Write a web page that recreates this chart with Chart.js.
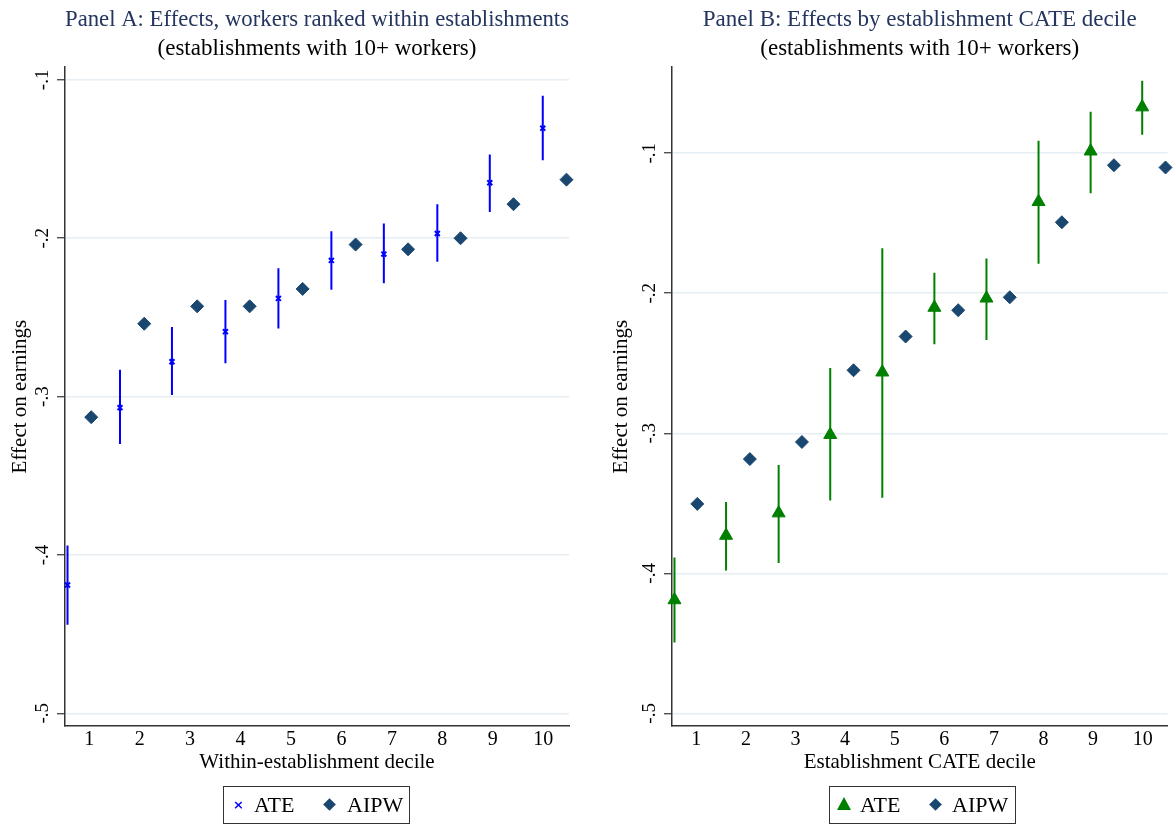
<!DOCTYPE html>
<html>
<head>
<meta charset="utf-8">
<script src="https://cdn.jsdelivr.net/npm/chart.js@4.4.0/dist/chart.umd.min.js"></script>
<style>
  body { margin: 0; background: #fff; }
  #wrap { position: relative; width: 1176px; height: 825px; overflow: hidden; }
  #wrap canvas { position: absolute; top: 0; }
  .legend { position: absolute; top: 786px; width: 187px; height: 38px; box-sizing: border-box;
            border: 1.5px solid #333; font: 22px "Liberation Serif", serif; color: #000; }
  .legend span.txt { position: absolute; top: 0; line-height: 35px; }
  .mk { position: absolute; }
  .mk-x { top: 10px; font: bold 13px "DejaVu Sans", sans-serif; color: #0000ff; line-height: 15px; }
  .mk-dia { top: 13px; width: 9px; height: 9px; background: #1a476f; transform: rotate(45deg); }
  .mk-tri { top: 10px; width: 0; height: 0; border-left: 7px solid transparent;
            border-right: 7px solid transparent; border-bottom: 13px solid #008000; }
</style>
</head>
<body>
<div id="wrap">
  <canvas id="panelA" width="588" height="825" style="left:0"></canvas>
  <canvas id="panelB" width="588" height="825" style="left:588px"></canvas>

  <div class="legend" style="left:223px">
    <span class="mk mk-x" style="left:9px">×</span>
    <span class="txt" style="left:30px">ATE</span>
    <span class="mk mk-dia" style="left:101px"></span>
    <span class="txt" style="left:123px">AIPW</span>
  </div>
  <div class="legend" style="left:829px">
    <span class="mk mk-tri" style="left:7px"></span>
    <span class="txt" style="left:30px">ATE</span>
    <span class="mk mk-dia" style="left:101px"></span>
    <span class="txt" style="left:122px">AIPW</span>
  </div>
</div>

<script>
// Ticks communs aux deux panneaux
const xTicks = [1, 2, 3, 4, 5, 6, 7, 8, 9, 10];
const yTicks = [-0.5, -0.4, -0.3, -0.2, -0.1];
const yTickLabels = ['-.5', '-.4', '-.3', '-.2', '-.1'];

// Panel A : déciles intra-établissement
const ateXA  = [0.57, 1.61, 2.64, 3.70, 4.75, 5.80, 6.84, 7.90, 8.94, 9.99];
const ateA   = [-0.419, -0.307, -0.278, -0.259, -0.238, -0.214, -0.210, -0.197, -0.165, -0.1305];
const ateLoA = [-0.444, -0.330, -0.299, -0.279, -0.257, -0.2325, -0.2285, -0.2148, -0.1834, -0.1507];
const ateHiA = [-0.394, -0.283, -0.256, -0.239, -0.219, -0.1956, -0.1907, -0.1785, -0.1472, -0.1101];
const aipwXA = [1.04, 2.09, 3.14, 4.18, 5.23, 6.28, 7.32, 8.36, 9.41, 10.46];
const aipwA  = [-0.313, -0.254, -0.243, -0.243, -0.232, -0.204, -0.207, -0.200, -0.1785, -0.163];

// Panel B : déciles de CATE des établissements
const ateXB  = [0.56, 1.60, 2.66, 3.70, 4.75, 5.80, 6.85, 7.90, 8.95, 9.99];
const ateB   = [-0.419, -0.373, -0.357, -0.301, -0.2564, -0.2102, -0.2036, -0.1347, -0.0986, -0.0671];
const ateLoB = [-0.4493, -0.398, -0.3926, -0.348, -0.346, -0.2364, -0.2333, -0.179, -0.1286, -0.0869];
const ateHiB = [-0.3886, -0.349, -0.3226, -0.2533, -0.1679, -0.1854, -0.1752, -0.0911, -0.0704, -0.0483];
const aipwXB = [1.02, 2.08, 3.13, 4.17, 5.22, 6.28, 7.32, 8.37, 9.42, 10.46];
const aipwB  = [-0.3504, -0.3184, -0.3062, -0.255, -0.2309, -0.2121, -0.2029, -0.1493, -0.1086, -0.1102];

const SERIF = '"Liberation Serif", "Times New Roman", serif';
const NAVY = '#1a476f';

// Étiquettes de l'axe Y tournées de 90° comme dans Stata
const rotatedYTicks = {
    id: 'rotatedYTicks',
    afterDraw(chart, args, opts) {
        const scale = chart.scales.y;
        const ctx = chart.ctx;
        ctx.save();
        ctx.font = opts.size + 'px ' + SERIF;
        ctx.fillStyle = '#000';
        ctx.textAlign = 'center';
        ctx.textBaseline = 'middle';
        yTicks.forEach(function(v, i) {
            ctx.save();
            ctx.translate(scale.right - opts.offset, scale.getPixelForValue(v));
            ctx.rotate(-Math.PI / 2);
            ctx.fillText(yTickLabels[i], 0, 0);
            ctx.restore();
        });
        ctx.restore();
    }
};

function toPoints(xs, ys) {
    return xs.map((x, i) => ({ x: x, y: ys[i] }));
}

// Segments verticaux séparés par des trous (y null)
function errorBarPoints(xs, lo, hi) {
    const pts = [];
    xs.forEach((x, i) => {
        pts.push({ x: x, y: lo[i] }, { x: x, y: hi[i] }, { x: x, y: null });
    });
    return pts;
}

function makePanel(id, p) {
    return new Chart(document.getElementById(id), {
        type: 'scatter',
        data: {
            datasets: [
                {
                    label: 'ATE',
                    data: toPoints(p.ateX, p.ate),
                    pointStyle: p.ateStyle,
                    pointRadius: p.ateRadius,
                    pointBorderWidth: p.ateBorder,
                    backgroundColor: p.ateColor,
                    borderColor: p.ateColor,
                    clip: false
                },
                {
                    label: 'AIPW',
                    data: toPoints(p.aipwX, p.aipw),
                    pointStyle: 'rectRot',
                    pointRadius: 6.5,
                    pointBorderWidth: 1,
                    backgroundColor: NAVY,
                    borderColor: NAVY,
                    clip: false
                },
                {
                    label: 'CI',
                    data: errorBarPoints(p.ateX, p.lo, p.hi),
                    showLine: true,
                    spanGaps: false,
                    pointRadius: 0,
                    borderWidth: 2,
                    borderColor: p.ateColor,
                    clip: false
                }
            ]
        },
        options: {
            responsive: false,
            animation: false,
            layout: { padding: { left: 0, right: p.padRight, top: 0, bottom: 49 } },
            plugins: {
                legend: { display: false },
                tooltip: { enabled: false },
                title: {
                    display: true,
                    text: p.title,
                    color: '#24365f',
                    fullSize: false,
                    font: { family: SERIF, size: 23, weight: 'normal' },
                    padding: { top: 6, bottom: 0 }
                },
                subtitle: {
                    display: true,
                    text: '(establishments with 10+ workers)',
                    color: '#000',
                    fullSize: false,
                    font: { family: SERIF, size: 23 },
                    padding: { top: 2, bottom: 4 }
                },
                rotatedYTicks: { offset: 22, size: 19 }
            },
            scales: {
                x: {
                    type: 'linear',
                    min: p.xMin,
                    max: p.xMax,
                    afterBuildTicks: function(scale) {
                        scale.ticks = xTicks.map(v => ({ value: v }));
                    },
                    afterFit: function(scale) { scale.height = 50; },
                    grid: { display: false, drawTicks: false, tickLength: 0 },
                    border: { color: '#333', width: 1.5 },
                    ticks: {
                        color: '#000',
                        padding: 2,
                        maxRotation: 0,
                        font: { family: SERIF, size: 20 },
                        callback: v => String(v)
                    },
                    title: {
                        display: true,
                        text: p.xTitle,
                        color: '#000',
                        font: { family: SERIF, size: 21 },
                        padding: { top: 0, bottom: 1 }
                    }
                },
                y: {
                    type: 'linear',
                    min: p.yMin,
                    max: p.yMax,
                    afterBuildTicks: function(scale) {
                        scale.ticks = yTicks.map(v => ({ value: v }));
                    },
                    afterFit: function(scale) { scale.width = p.yWidth; },
                    grid: {
                        color: '#e6edf3',
                        lineWidth: 1.5,
                        drawTicks: true,
                        tickLength: 8,
                        tickColor: '#333',
                        tickWidth: 1.2
                    },
                    border: { color: '#333', width: 1.5 },
                    ticks: { display: false },
                    title: {
                        display: true,
                        text: 'Effect on earnings',
                        color: '#000',
                        font: { family: SERIF, size: 21 },
                        padding: { top: p.yTitlePad, bottom: 0 }
                    }
                }
            }
        },
        plugins: [rotatedYTicks]
    });
}

makePanel('panelA', {
    title: 'Panel A: Effects, workers ranked within establishments',
    xTitle: 'Within-establishment decile',
    ateX: ateXA, ate: ateA, lo: ateLoA, hi: ateHiA,
    aipwX: aipwXA, aipw: aipwA,
    ateStyle: 'crossRot', ateRadius: 3.5, ateBorder: 2, ateColor: '#0000ff',
    xMin: 0.52, xMax: 10.51, yMin: -0.508, yMax: -0.092,
    yWidth: 65, yTitlePad: 8, padRight: 19
});

makePanel('panelB', {
    title: 'Panel B: Effects by establishment CATE decile',
    xTitle: 'Establishment CATE decile',
    ateX: ateXB, ate: ateB, lo: ateLoB, hi: ateHiB,
    aipwX: aipwXB, aipw: aipwB,
    ateStyle: 'triangle', ateRadius: 7.5, ateBorder: 1, ateColor: '#008000',
    xMin: 0.51, xMax: 10.5, yMin: -0.509, yMax: -0.0386,
    yWidth: 84, yTitlePad: 21, padRight: 3
});
</script>
</body>
</html>
